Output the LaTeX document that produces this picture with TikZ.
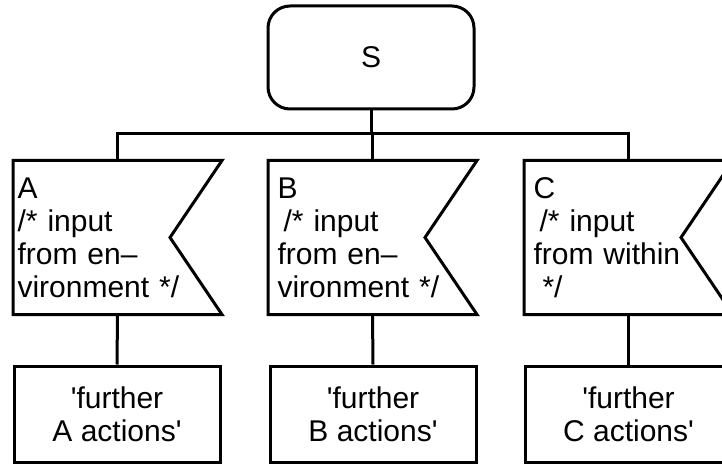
\documentclass[tikz,border=0pt]{standalone}
\usepackage{fontspec}
\setmainfont{Liberation Sans}
\usetikzlibrary{calc}

\begin{document}
\begin{tikzpicture}[x=1pt, y=-1pt, line width=3pt,
    every node/.style={font=\fontsize{30}{33}\selectfont},
    startbox/.style={draw, rounded corners=22pt, minimum width=206pt, minimum height=103pt},
    inbox/.style={minimum width=206pt, minimum height=151pt, inner xsep=8pt, text width=190pt, align=left},
    actbox/.style={draw, minimum width=206pt, minimum height=96pt, align=center}]
    \useasboundingbox (0,0) rectangle (722,465);
    \clip (0,0) rectangle (722,465);

    \node [startbox] (S) at (371,57.5) {S};
    \coordinate (bus) at (371,134);

    \node [inbox, inner xsep=3pt, text width=200pt] (A) at (117.5,237.5)
        {A\\/* input\\from en–\\vironment */};
    \node [inbox] (B) at (372.5,237.5)
        {B\\\hspace{0.2em}/* input\\from en–\\vironment */};
    \node [inbox] (C) at (628.5,237.5)
        {C\\\hspace{0.2em}/* input\\from within\\\hspace{0.3em}*/};

    \foreach \n in {A,B,C}
        \draw (\n.north west) -- (\n.north east) -- ($(\n.east)+(-52,0)$)
            -- (\n.south east) -- (\n.south west) -- cycle;

    \node [actbox] (fA) at (117,414) {\textquotesingle further\\A actions\textquotesingle};
    \node [actbox] (fB) at (373,414) {\textquotesingle further\\B actions\textquotesingle};
    \node [actbox] (fC) at (628.5,414) {\textquotesingle further\\C actions\textquotesingle};

    \draw (S.south) -- (bus);
    \draw (A.north) |- (bus) -| (C.north);
    \draw (B.north) -- (B.north |- bus);
    \foreach \n in {A,B,C}
        \draw (\n.south) -- (f\n.north);
\end{tikzpicture}
\end{document}
